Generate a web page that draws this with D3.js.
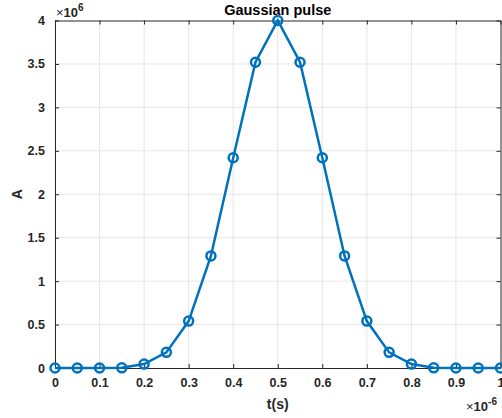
<!DOCTYPE html>
<meta charset="utf-8">
<style>
body { margin: 0; background: #fff; }
svg { font-family: "Liberation Sans", Arial, sans-serif; font-weight: bold; }
.axis path { stroke: #262626; }
.axis line { stroke: #262626; }
.axis text { fill: #262626; font-size: 12.5px; font-weight: bold; font-family: "Liberation Sans", Arial, sans-serif; }
.grid line { stroke: #e6e6e6; }
</style>
<body></body>
<script src="https://cdnjs.cloudflare.com/ajax/libs/d3/7.8.5/d3.min.js"></script>
<script>
// time in units of 1e-6 s, amplitude in units of 1e6
var tVals = [0, 0.05, 0.1, 0.15, 0.2, 0.25, 0.3, 0.35, 0.4, 0.45, 0.5,
             0.55, 0.6, 0.65, 0.7, 0.75, 0.8, 0.85, 0.9, 0.95, 1.0];
var aVals = [0.0, 0.0, 0.0, 0.002, 0.045, 0.18, 0.54, 1.29, 2.42, 3.52, 4.0,
             3.52, 2.42, 1.29, 0.54, 0.18, 0.045, 0.002, 0.0, 0.0, 0.0];
var xTicks = [0, 0.1, 0.2, 0.3, 0.4, 0.5, 0.6, 0.7, 0.8, 0.9, 1];
var yTicks = [0, 0.5, 1, 1.5, 2, 2.5, 3, 3.5, 4];

var margin = {top: 20.5, right: 1.5, bottom: 50, left: 55},
    width = 502 - margin.left - margin.right,
    height = 418 - margin.top - margin.bottom;

var svg = d3.select("body").append("svg")
    .attr("width", 502)
    .attr("height", 418);
var g = svg.append("g")
    .attr("transform", "translate(" + margin.left + "," + margin.top + ")");

var x = d3.scaleLinear().domain([0, 1]).range([0, width]);
var y = d3.scaleLinear().domain([0, 4]).range([height, 0]);

// grid
g.append("g").attr("class", "grid")
  .selectAll("line").data(xTicks.slice(1, -1)).enter().append("line")
  .attr("x1", d => x(d)).attr("x2", d => x(d))
  .attr("y1", 0).attr("y2", height);
g.append("g").attr("class", "grid")
  .selectAll("line").data(yTicks.slice(1, -1)).enter().append("line")
  .attr("y1", d => y(d)).attr("y2", d => y(d))
  .attr("x1", 0).attr("x2", width);

// axes
var fmt = d => String(d);
g.append("g").attr("class", "axis")
  .attr("transform", "translate(0," + height + ")")
  .call(d3.axisBottom(x).tickValues(xTicks).tickFormat(fmt).tickSizeInner(-4).tickSizeOuter(0).tickPadding(10));
g.append("g").attr("class", "axis")
  .call(d3.axisLeft(y).tickValues(yTicks).tickFormat(fmt).tickSizeInner(-4).tickSizeOuter(0).tickPadding(10));
g.append("g").attr("class", "axis")
  .call(d3.axisTop(x).tickValues(xTicks).tickFormat("").tickSizeInner(-4).tickSizeOuter(0));
g.append("g").attr("class", "axis")
  .attr("transform", "translate(" + width + ",0)")
  .call(d3.axisRight(y).tickValues(yTicks).tickFormat("").tickSizeInner(-4).tickSizeOuter(0));
g.selectAll(".axis .domain").attr("stroke-width", 1);

// data
var pts = tVals.map((t, i) => [t, aVals[i]]);
g.append("path").datum(pts)
  .attr("fill", "none")
  .attr("stroke", "#0072BD")
  .attr("stroke-width", 2.5)
  .attr("d", d3.line().x(d => x(d[0])).y(d => y(d[1])));
g.selectAll(".pt").data(pts).enter().append("circle")
  .attr("class", "pt")
  .attr("cx", d => x(d[0])).attr("cy", d => y(d[1]))
  .attr("r", 4.5)
  .attr("fill", "none")
  .attr("stroke", "#0072BD")
  .attr("stroke-width", 2.5);

// labels
svg.append("text").attr("x", margin.left + width / 2).attr("y", 14.5)
  .attr("text-anchor", "middle").attr("font-size", 14.5).attr("fill", "#000")
  .text("Gaussian pulse");
svg.append("text").attr("x", margin.left + width / 2).attr("y", 409)
  .attr("text-anchor", "middle").attr("font-size", 14).attr("fill", "#262626")
  .text("t(s)");
svg.append("text").attr("transform", "translate(22," + (margin.top + height / 2) + ") rotate(-90)")
  .attr("text-anchor", "middle").attr("font-size", 14).attr("fill", "#262626")
  .text("A");

var e1 = svg.append("text").attr("x", 56).attr("y", 17).attr("fill", "#262626").attr("font-size", 13);
e1.append("tspan").attr("font-weight", "normal").text("\u00d7");
e1.append("tspan").text("10");
e1.append("tspan").attr("dy", -6).attr("font-size", 10).text("6");

var e2 = svg.append("text").attr("x", 466).attr("y", 411).attr("fill", "#262626").attr("font-size", 13);
e2.append("tspan").attr("font-weight", "normal").text("\u00d7");
e2.append("tspan").text("10");
e2.append("tspan").attr("dy", -6).attr("font-size", 10).text("-6");
</script>
